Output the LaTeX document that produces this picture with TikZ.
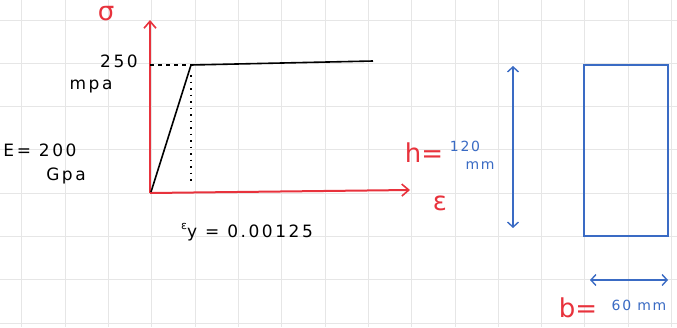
\documentclass[tikz,border=0pt]{standalone}
\usepackage{fontspec}
\setmainfont{DejaVu Sans}
\usetikzlibrary{arrows.meta}
\definecolor{penred}{HTML}{E8323C}
\definecolor{penblue}{HTML}{3A6BC4}
\definecolor{gridc}{HTML}{E6E6E6}
\tikzset{
  axis/.style={penred, line width=2pt, -{Straight Barb[length=7pt,width=12pt,line width=1.6pt]}},
  curve/.style={black, line width=1.6pt, line join=round},
  guide/.style={black, line width=1.2pt, dash pattern=on 4pt off 4pt},
  dotguide/.style={black, line width=1.4pt, dash pattern=on 1.5pt off 5pt},
  dim/.style={penblue, line width=1.6pt, {Straight Barb[length=5pt,width=11pt,line width=1.4pt]}-{Straight Barb[length=5pt,width=11pt,line width=1.4pt]}},
  sec/.style={penblue, line width=1.6pt},
  lbl/.style={font=\fontsize{17}{17}\selectfont\addfontfeature{LetterSpace=15}, inner sep=0pt},
  rlbl/.style={penred, font=\fontsize{26}{26}\selectfont, inner sep=0pt},
  blbl/.style={penblue, font=\fontsize{14}{14}\selectfont\addfontfeature{LetterSpace=12}, inner sep=0pt},
}
\begin{document}
\begin{tikzpicture}[x=1pt,y=-1pt]
\useasboundingbox (0,0) rectangle (677,327);
\fill[white] (0,0) rectangle (677,327);
% grid
\foreach \i in {0,...,15} { \draw[gridc, line width=1pt] ({21.7+43.33*\i},0) -- ({21.7+43.33*\i},327); }
\foreach \j in {0,...,7} { \draw[gridc, line width=1pt] (0,{20+43.33*\j}) -- (677,{20+43.33*\j}); }

% axes
\coordinate (O) at (150,193);
\coordinate (ytop) at (150,20);
\coordinate (xend) at (410,190);
\draw[axis] (O) -- (ytop);
\draw[axis] (O) -- (xend);
\node[rlbl] (sig) at (106,14) {σ};
\node[rlbl] (eps) at (440,203) {ε};

% curve
\coordinate (Y) at (191,65);
\coordinate (P) at (373,61);
\coordinate (Ya) at (150,65);
\coordinate (Yb) at (191,185);
\draw[curve] (151,192) -- (Y) -- (P);
\draw[guide] (Ya) -- (Y);
\draw[dotguide] (191,75) -- (Yb);

% labels
\node[lbl] (s250) at (119,61) {250};
\node[lbl] (mpa) at (91,87) {mpa};
\node[lbl] (E) at (40,150) {E= 200};
\node[lbl] (gpa) at (66,176) {Gpa};
\node[lbl] (ey) at (247,232) {\raisebox{8pt}{\fontsize{11}{11}\selectfont ε}y = 0.00125};

% h dimension
\node[rlbl] (hlab) at (424,153) {h=};
\node[blbl] (h120) at (465,146) {120};
\node[blbl] (hmm) at (480,166) {mm};
\coordinate (ht) at (513,66);
\coordinate (hb) at (513,228);
\draw[dim] (ht) -- (hb);

% section
\node[sec, draw, minimum width=84pt, minimum height=171pt, inner sep=0pt] (rect) at (626,150.5) {};

% b dimension
\coordinate (bl) at (590,280);
\coordinate (br) at (668,280);
\draw[dim] (bl) -- (br);
\node[rlbl] (blab) at (578,308) {b=};
\node[blbl] (b60) at (639,305) {60 mm};
\end{tikzpicture}
\end{document}
